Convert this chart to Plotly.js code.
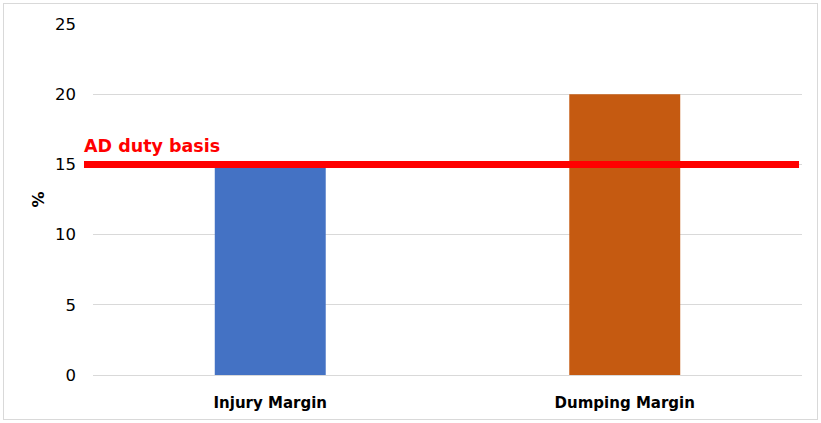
<!DOCTYPE html>
<html>
<head>
<meta charset="utf-8">
<script src="https://cdn.plot.ly/plotly-3.0.1.min.js"></script>
<style>
  html, body { margin: 0; padding: 0; background: #fff; }
  #wrap { position: relative; width: 821px; height: 423px; }
  #chart { width: 821px; height: 423px; }
  #frame { position: absolute; left: 3px; top: 3px; width: 815px; height: 417px;
           border: 1px solid #d9d9d9; box-sizing: border-box; pointer-events: none; }
</style>
</head>
<body>
<div id="wrap">
  <div id="chart"></div>
  <div id="frame"></div>
</div>
<script>
// Margins (%) compared against the anti-dumping duty basis
const categories = ['Injury Margin', 'Dumping Margin'];
const marginValues = [15, 20];
const barColors = ['#4472C4', '#C55A11'];
const dutyBasis = 15;
const dutyLabel = 'AD duty basis';
const yTicks = [0, 5, 10, 15, 20, 25];

const trace = {
  type: 'bar',
  x: categories,
  y: marginValues,
  marker: { color: barColors },
  width: 0.313,
  hoverinfo: 'x+y'
};

const layout = {
  width: 821,
  height: 423,
  margin: { l: 93, r: 19, t: 24, b: 48 },
  paper_bgcolor: '#ffffff',
  plot_bgcolor: '#ffffff',
  showlegend: false,
  font: { family: 'DejaVu Sans, Verdana, sans-serif', color: '#000' },
  xaxis: {
    type: 'category',
    showgrid: false,
    zeroline: false,
    showline: false,
    ticks: '',
    ticklabelstandoff: 17,
    tickfont: { size: 15, family: 'DejaVu Sans, Verdana, sans-serif', weight: 'bold', color: '#000' }
  },
  yaxis: {
    range: [0, 25],
    tickvals: yTicks,
    ticktext: yTicks.map(String),
    showgrid: true,
    gridcolor: '#d9d9d9',
    gridwidth: 1,
    zeroline: true,
    zerolinecolor: '#d9d9d9',
    zerolinewidth: 1,
    showline: false,
    ticks: '',
    ticklabelstandoff: 16,
    tickfont: { size: 16.5, family: 'DejaVu Sans, Verdana, sans-serif', color: '#000' },
    title: {
      text: '%',
      standoff: 6,
      font: { size: 16, family: 'DejaVu Sans, Verdana, sans-serif', weight: 'bold', color: '#000' }
    }
  },
  shapes: [{
    type: 'line',
    xref: 'paper', yref: 'y',
    x0: -0.0127, x1: 0.9958,
    y0: dutyBasis, y1: dutyBasis,
    line: { color: '#FF0000', width: 7 },
    layer: 'above'
  }],
  annotations: [{
    xref: 'paper', yref: 'y',
    x: -0.0155, y: dutyBasis,
    xanchor: 'left', yanchor: 'bottom',
    yshift: 6,
    showarrow: false,
    text: '<b>' + dutyLabel + '</b>',
    font: { size: 17.5, family: 'DejaVu Sans, Verdana, sans-serif', color: '#FF0000' }
  }]
};

Plotly.newPlot('chart', [trace], layout, { displayModeBar: false, staticPlot: true });
</script>
</body>
</html>
